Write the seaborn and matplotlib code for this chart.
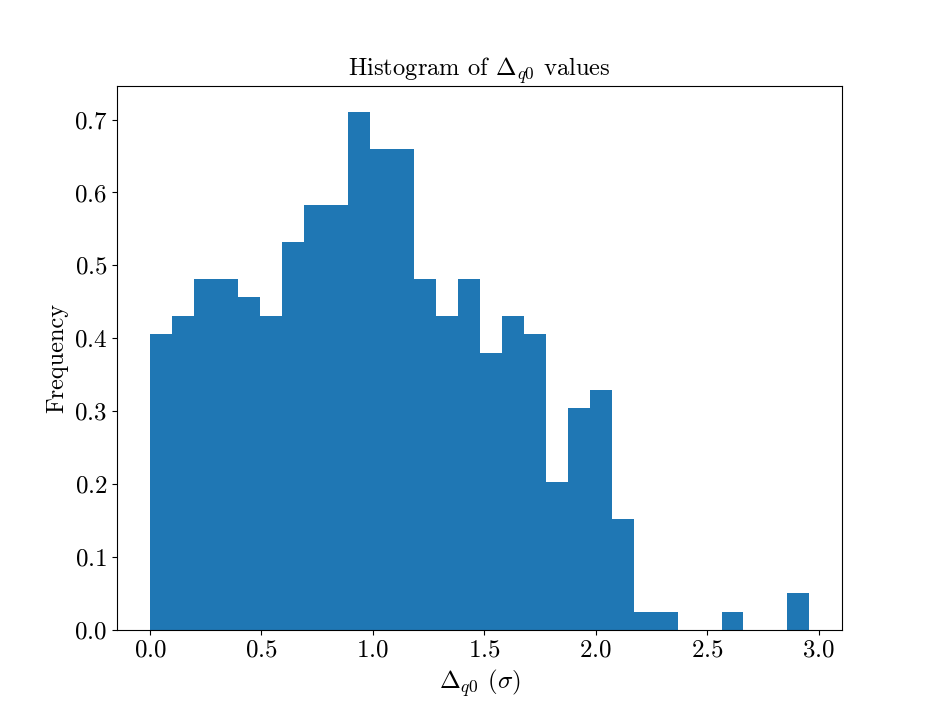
import numpy as np
import pandas as pd
import matplotlib
matplotlib.use("Agg")
import matplotlib.pyplot as plt
import seaborn as sns

# Histogram of Delta_q0 values (30 bins, density)
bin_lo = 0.0
bin_hi = 2.958
n_bins = 30
counts = [16, 17, 19, 19, 18, 17, 21, 23, 23, 28,
          26, 26, 19, 17, 19, 15, 17, 16, 8, 12,
          13, 6, 1, 1, 0, 0, 1, 0, 0, 2]

edges = np.linspace(bin_lo, bin_hi, n_bins + 1)
df = pd.DataFrame({"delta": (edges[:-1] + edges[1:]) / 2, "count": counts})

plt.rcParams["font.family"] = "serif"
plt.rcParams["font.serif"] = ["cmr10"]
plt.rcParams["mathtext.fontset"] = "cm"
plt.rcParams["axes.formatter.use_mathtext"] = True

fig, ax = plt.subplots(figsize=(9.36, 7.2), dpi=100)
fig.subplots_adjust(left=0.125, right=0.9, top=0.88, bottom=0.125)

sns.histplot(data=df, x="delta", weights="count", bins=list(edges), stat="density",
             color="#1f77b4", alpha=1, linewidth=0, ax=ax)

ax.set_title(r"Histogram of $\Delta_{q0}$ values", fontsize=17.7)
ax.set_xlabel(r"$\Delta_{q0}$ ($\sigma$)", fontsize=18)
ax.set_ylabel("Frequency", fontsize=17.5)
ax.tick_params(labelsize=18)
ax.set_xticks([0.0, 0.5, 1.0, 1.5, 2.0, 2.5, 3.0])

plt.savefig("out.png", dpi=100)
